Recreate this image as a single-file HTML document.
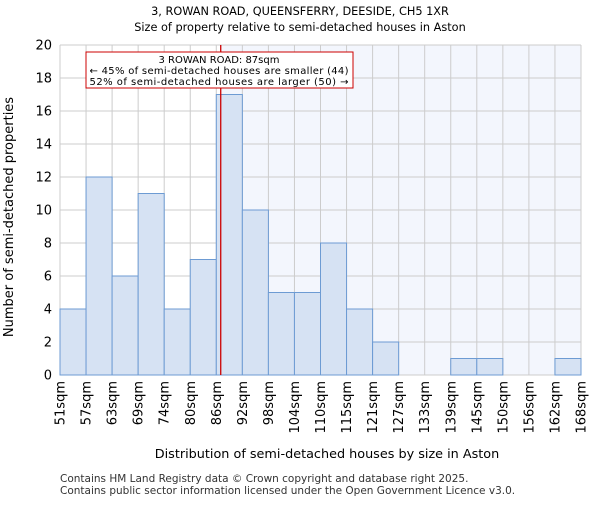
<!DOCTYPE html>
<html><head><meta charset="utf-8"><style>body{margin:0;background:#fff}svg{font-family:"DejaVu Sans","Liberation Sans",sans-serif}</style></head>
<body>
<svg id="c" width="600" height="500" xmlns="http://www.w3.org/2000/svg">
<text x="300" y="15" text-anchor="middle" font-size="11.3">3, ROWAN ROAD, QUEENSFERRY, DEESIDE, CH5 1XR</text>
<text x="300" y="31" text-anchor="middle" font-size="11.3">Size of property relative to semi-detached houses in Aston</text>
<g id="plot"></g>
<text x="327" y="458" text-anchor="middle" font-size="12.8">Distribution of semi-detached houses by size in Aston</text>
<text transform="translate(13,217) rotate(-90)" text-anchor="middle" font-size="13">Number of semi-detached properties</text>
<text x="60" y="482" font-size="10.5" fill="#333">Contains HM Land Registry data © Crown copyright and database right 2025.</text>
<text x="60" y="494" font-size="10.5" fill="#333">Contains public sector information licensed under the Open Government Licence v3.0.</text>
</svg>
<script>
const binLabels=["51sqm","57sqm","63sqm","69sqm","74sqm","80sqm","86sqm","92sqm","98sqm","104sqm","110sqm","115sqm","121sqm","127sqm","133sqm","139sqm","145sqm","150sqm","156sqm","162sqm","168sqm"];
const counts=[4,12,6,11,4,7,17,10,5,5,8,4,2,0,0,1,1,0,0,1];
const yTicks=[0,2,4,6,8,10,12,14,16,18,20];
const propertyBinPos=6.17;
const annLines=["3 ROWAN ROAD: 87sqm","← 45% of semi-detached houses are smaller (44)","52% of semi-detached houses are larger (50) →"];
const ns="http://www.w3.org/2000/svg";
const L=60,R=581,T=45,B=375,n=counts.length;
const xs=i=>L+(R-L)*i/n, ys=v=>B-(B-T)*v/20;
const g=document.getElementById('plot');
function mk(t,a){const e=document.createElementNS(ns,t);for(const k in a)e.setAttribute(k,a[k]);g.appendChild(e);return e;}
const px=xs(propertyBinPos);
let e=mk('rect',{x:px,y:T,width:R-px,height:B-T,fill:'#f3f6fd'});


yTicks.forEach(v=>{let l=mk('line',{x1:L,x2:R,y1:ys(v),y2:ys(v),stroke:'#cccccc','stroke-width':1});


let t=mk('text',{x:L-8,y:ys(v)+4.5,'text-anchor':'end','font-size':13});t.textContent=v;

});
binLabels.forEach((s,i)=>{let l=mk('line',{x1:xs(i),x2:xs(i),y1:T,y2:B,stroke:'#cccccc','stroke-width':1});


let t=mk('text',{transform:`translate(${xs(i)+4.5},381) rotate(-90)`,'text-anchor':'end','font-size':13});t.textContent=s;

});
counts.forEach((v,i)=>{if(!v)return;let r=mk('rect',{x:xs(i),y:ys(v),width:xs(i+1)-xs(i),height:B-ys(v),fill:'#d6e2f3',stroke:'#6d9bd3','stroke-width':1});

});
e=mk('line',{x1:px,x2:px,y1:T,y2:B,stroke:'#cc0000','stroke-width':1.3});


e=mk('rect',{x:86,y:52,width:267,height:36,fill:'#fff',stroke:'#cc0000','stroke-width':1});


annLines.forEach((s,i)=>{let t=mk('text',{x:219,y:63+i*11,'text-anchor':'middle','font-size':10,textLength:i?259:null});if(!i)t.removeAttribute('textLength');t.textContent=s;

});
</script>
</body></html>
